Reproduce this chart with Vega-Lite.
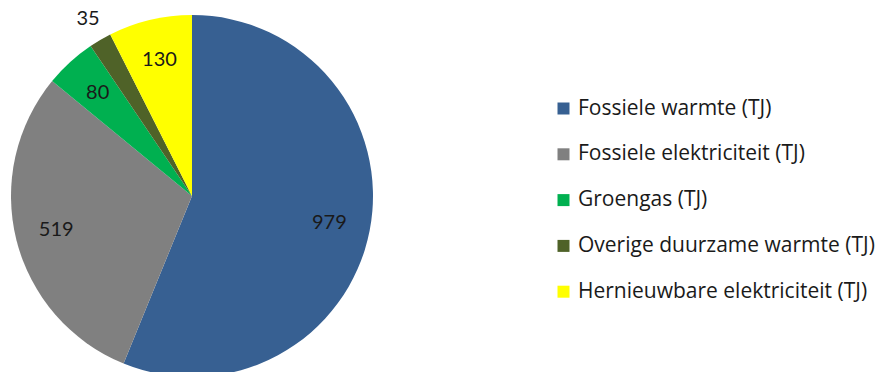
{
  "$schema": "https://vega.github.io/schema/vega-lite/v6.json",
  "width": 384,
  "height": 392,
  "autosize": {"type": "none"},
  "padding": {"left": 0, "top": 0, "right": 502, "bottom": 0},
  "background": "white",
  "config": {"view": {"stroke": null}, "font": "Lato"},
  "data": {"values": [
    {"category": "Fossiele warmte (TJ)", "value": 979, "rank": 1},
    {"category": "Fossiele elektriciteit (TJ)", "value": 519, "rank": 2},
    {"category": "Groengas (TJ)", "value": 80, "rank": 3},
    {"category": "Overige duurzame warmte (TJ)", "value": 35, "rank": 4},
    {"category": "Hernieuwbare elektriciteit (TJ)", "value": 130, "rank": 5}
  ]},
  "encoding": {
    "theta": {"field": "value", "type": "quantitative", "stack": true},
    "order": {"field": "rank", "type": "quantitative"}
  },
  "layer": [
    {
      "mark": {"type": "arc", "outerRadius": 181},
      "encoding": {
        "color": {
          "field": "category",
          "type": "nominal",
          "scale": {
            "domain": ["Fossiele warmte (TJ)", "Fossiele elektriciteit (TJ)", "Groengas (TJ)", "Overige duurzame warmte (TJ)", "Hernieuwbare elektriciteit (TJ)"],
            "range": ["#376092", "#808080", "#00b050", "#4f6228", "#ffff00"]
          },
          "legend": {
            "title": null,
            "orient": "none",
            "legendX": 553,
            "legendY": 98,
            "padding": 0,
            "symbolType": "square",
            "symbolSize": 144,
            "symbolStrokeWidth": 0,
            "labelFont": "Open Sans",
            "labelFontSize": 21,
            "labelOffset": 4,
            "labelColor": "#1a1a1a",
            "rowPadding": 23.8,
            "labelLimit": 400
          }
        }
      }
    },
    {
      "mark": {"type": "text", "radius": 140, "fontSize": 20, "color": "#1a1a1a"},
      "encoding": {
        "text": {"field": "value", "type": "quantitative"},
        "detail": {"field": "category", "type": "nominal"},
        "opacity": {"condition": {"test": "datum.value < 50", "value": 0}, "value": 1}
      }
    },
    {
      "mark": {"type": "text", "radius": 205, "fontSize": 20, "color": "#1a1a1a"},
      "encoding": {
        "text": {"field": "value", "type": "quantitative"},
        "detail": {"field": "category", "type": "nominal"},
        "opacity": {"condition": {"test": "datum.value < 50", "value": 1}, "value": 0}
      }
    }
  ]
}
